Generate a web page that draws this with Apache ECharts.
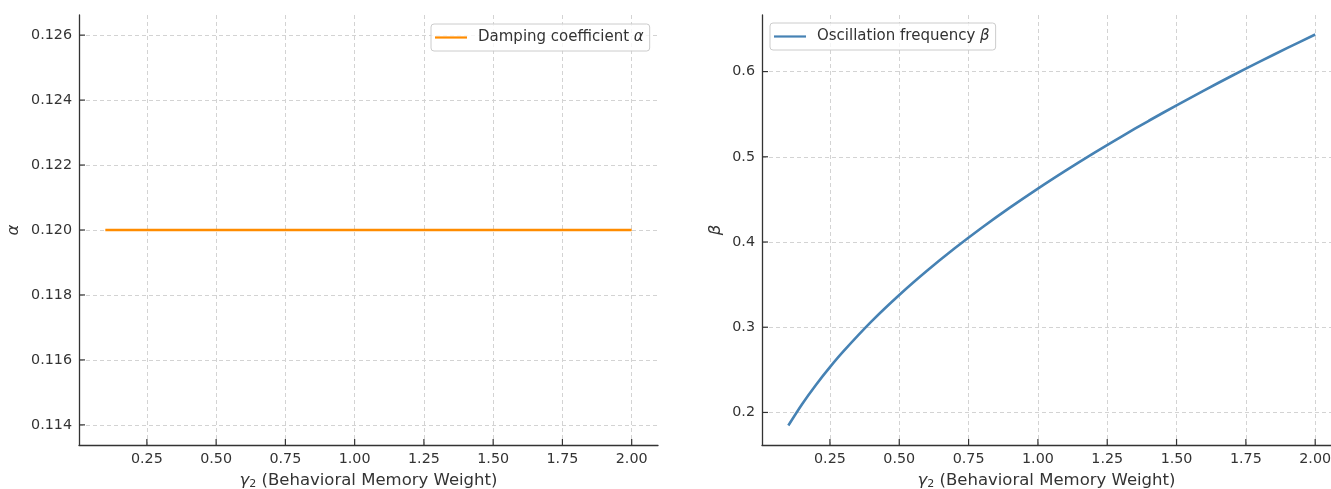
<!DOCTYPE html>
<html>
<head>
<meta charset="utf-8">
<script src="https://cdn.jsdelivr.net/npm/echarts@6/dist/echarts.min.js"></script>
<style>
html,body{margin:0;padding:0;background:#fff;}
#c{width:1331px;height:489px;}
</style>
</head>
<body>
<div id="c"></div>
<script>
// ---- data ----
const gamma2 = [0.1,0.15,0.2,0.25,0.3,0.4,0.5,0.6,0.7,0.8,0.9,1.0,1.1,1.2,1.3,1.4,1.5,1.6,1.7,1.8,1.9,2.0];
const alphaValues = [0.12,0.12,0.12,0.12,0.12,0.12,0.12,0.12,0.12,0.12,0.12,0.12,0.12,0.12,0.12,0.12,0.12,0.12,0.12,0.12,0.12,0.12];
const betaValues = [0.1847,0.2100,0.2326,0.2532,0.2722,0.3068,0.3378,0.3662,0.3926,0.4173,0.4406,0.4627,0.4838,0.5041,0.5235,0.5423,0.5604,0.5780,0.5951,0.6116,0.6278,0.6435];
const xTicks = [0.25,0.5,0.75,1.0,1.25,1.5,1.75,2.0];
const alphaTicks = [0.114,0.116,0.118,0.120,0.122,0.124,0.126];
const betaTicks = [0.2,0.3,0.4,0.5,0.6];

const FONT = 'DejaVu Sans';
const TXT = '#333';
const AX = '#333';
const GRIDC = '#d3d3d3';

const xRanges = [[0.005, 2.095], [0.005, 2.057]];
const yRanges = [[0.11338, 0.12662], [0.1618, 0.6664]];

function xAxisCfg(gi) {
  return {
    type: 'value', gridIndex: gi, min: xRanges[gi][0], max: xRanges[gi][1],
    name: '{i|γ}{s|2} (Behavioral Memory Weight)',
    nameLocation: 'middle', nameGap: 27,
    nameTextStyle: {
      fontFamily: FONT, fontSize: 16.5, color: TXT,
      rich: {
        i: {fontFamily: FONT, fontSize: 16.5, fontStyle: 'italic', color: TXT},
        s: {fontFamily: FONT, fontSize: 11, color: TXT, padding: [7,0,0,0]}
      }
    },
    axisLine: {show: true, lineStyle: {color: AX, width: 1.3}},
    axisTick: {show: false, customValues: xTicks},
    axisLabel: {show: true, customValues: xTicks, formatter: v => v.toFixed(2), fontFamily: FONT, fontSize: 14.3, color: TXT, margin: 7},
    splitLine: {show: true, lineStyle: {color: GRIDC, type: [4,3], width: 1}}
  };
}
function yAxisCfg(gi, ticks, dec, name, gap) {
  return {
    type: 'value', gridIndex: gi, min: yRanges[gi][0], max: yRanges[gi][1],
    name: name, nameLocation: 'middle', nameGap: gap, nameRotate: 90,
    nameTextStyle: {fontFamily: FONT, fontSize: 16.5, fontStyle: 'italic', color: TXT},
    axisLine: {show: true, lineStyle: {color: AX, width: 1.3}},
    axisTick: {show: false, customValues: ticks},
    axisLabel: {show: true, customValues: ticks, formatter: v => v.toFixed(dec), fontFamily: FONT, fontSize: 14.3, color: TXT, margin: 7},
    splitLine: {show: true, lineStyle: {color: GRIDC, type: [4,3], width: 1}}
  };
}

const legendCommon = {
  orient: 'vertical',
  backgroundColor: 'rgba(255,255,255,0.8)',
  borderColor: '#cccccc', borderWidth: 1, borderRadius: 3,
  padding: [6, 6, 6, 4],
  itemWidth: 32, itemHeight: 2.2,
  icon: 'rect',
  textStyle: {fontFamily: FONT, fontSize: 15, color: TXT, padding: [0,0,0,6],
    rich: {i: {fontFamily: FONT, fontSize: 15, fontStyle: 'italic', color: TXT}}}
};

const chart = echarts.init(document.getElementById('c'), null, {renderer: 'canvas'});
chart.setOption({
  animation: false,
  backgroundColor: '#fff',
  grid: [
    {left: 79, top: 15, width: 579, height: 430, outerBoundsMode: 'none', containLabel: false},
    {left: 762, top: 15, right: 0, height: 430, outerBoundsMode: 'none', containLabel: false}
  ],
  xAxis: [xAxisCfg(0), xAxisCfg(1)],
  yAxis: [
    yAxisCfg(0, alphaTicks, 3, 'α', 57),
    yAxisCfg(1, betaTicks, 1, 'β', 38)
  ],
  legend: [
    Object.assign({}, legendCommon, {left: 431, top: 24, data: ['Damping coefficient α'],
      formatter: () => 'Damping coefficient {i|α}'}),
    Object.assign({}, legendCommon, {left: 770, top: 23, data: ['Oscillation frequency β'],
      formatter: () => 'Oscillation frequency {i|β}'})
  ],
  series: [
    {name: 'Damping coefficient α', type: 'line', xAxisIndex: 0, yAxisIndex: 0,
     data: gamma2.map((g, i) => [g, alphaValues[i]]),
     showSymbol: false, symbol: 'none', lineStyle: {color: '#ff8c00', width: 2.6}, itemStyle: {color: '#ff8c00'}},
    {name: 'Oscillation frequency β', type: 'line', xAxisIndex: 1, yAxisIndex: 1,
     data: gamma2.map((g, i) => [g, betaValues[i]]), smooth: 0.3,
     showSymbol: false, symbol: 'none', lineStyle: {color: '#4682b4', width: 2.6}, itemStyle: {color: '#4682b4'}}
  ]
});

// inward tick marks, positioned through the library's own scales
const TL = 6;
const tickEls = [];
const yTickSets = [alphaTicks, betaTicks];
[0, 1].forEach(gi => {
  const y0 = yRanges[gi][0], x0 = xRanges[gi][0];
  xTicks.forEach(v => {
    const p = chart.convertToPixel({gridIndex: gi}, [v, y0]);
    tickEls.push({type: 'line', z: 50, silent: true,
      shape: {x1: p[0], y1: p[1], x2: p[0], y2: p[1] - TL},
      style: {stroke: AX, lineWidth: 1.2}});
  });
  yTickSets[gi].forEach(v => {
    const p = chart.convertToPixel({gridIndex: gi}, [x0, v]);
    tickEls.push({type: 'line', z: 50, silent: true,
      shape: {x1: p[0], y1: p[1], x2: p[0] + TL, y2: p[1]},
      style: {stroke: AX, lineWidth: 1.2}});
  });
});
chart.setOption({graphic: {elements: tickEls}});
</script>
</body>
</html>
